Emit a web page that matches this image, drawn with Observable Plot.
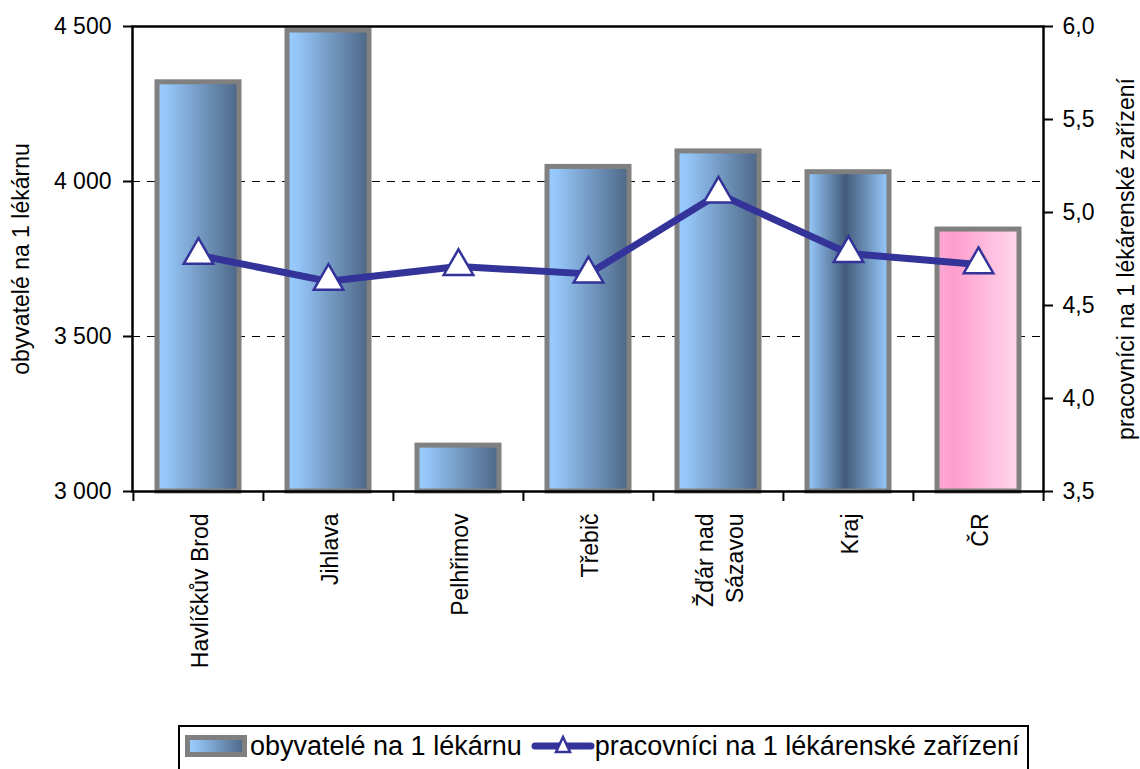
<!DOCTYPE html>
<html>
<head>
<meta charset="utf-8">
<script src="https://cdn.jsdelivr.net/npm/d3@7"></script>
<script src="https://cdn.jsdelivr.net/npm/@observablehq/plot@0.6"></script>
<style>
  html, body { margin: 0; padding: 0; background: #fff; }
  body { font-family: "Liberation Sans", Arial, sans-serif; }
  #wrap { position: relative; width: 1140px; height: 769px; overflow: hidden; }
  #chart svg { display: block; overflow: visible; }
  #legend {
    position: absolute; left: 178px; top: 725px; width: 851px; height: 52px;
    border: 2px solid #000; box-sizing: border-box; padding: 0 0 10px 5px;
    display: flex; align-items: center; font-size: 27px; color: #000; white-space: nowrap;
  }
  #legend .item { display: flex; align-items: center; }
  #legend svg { display: block; }
</style>
</head>
<body>
<div id="wrap">
  <div id="chart"></div>
  <div id="legend"></div>
</div>
<script>
// ---- data ----
const categories = ["Havlíčkův Brod", "Jihlava", "Pelhřimov", "Třebič", "Žďár nad\nSázavou", "Kraj", "ČR"];
const obyvatele = [4320, 4487, 3148, 4047, 4097, 4030, 3845];
const pracovnici = [4.77, 4.63, 4.71, 4.67, 5.10, 4.78, 4.72];
const leftTicks = [3000, 3500, 4000, 4500];
const rightTicks = [3.5, 4.0, 4.5, 5.0, 5.5, 6.0];
const gridValues = [3500, 4000];
const seriesNames = ["obyvatelé na 1 lékárnu", "pracovníci na 1 lékárenské zařízení"];

// ---- dual axis mapping ----
const L0 = 3000, L1 = 4500, R0 = 3.5, R1 = 6.0;
const toLeft = v => L0 + (v - R0) * (L1 - L0) / (R1 - R0);
const fromLeft = y => R0 + (y - L0) * (R1 - R0) / (L1 - L0);

const data = categories.map((c, i) => ({cat: c, oby: obyvatele[i], prac: pracovnici[i]}));

const W = 1140, H = 720, mL = 132, mR = 97, mT = 26, mB = 229;
const step = (W - mL - mR) / categories.length;
const FONT = "'Liberation Sans', Arial, sans-serif";

const defs = () => {
  const ns = "http://www.w3.org/2000/svg";
  const d = document.createElementNS(ns, "defs");
  d.innerHTML = `
    <linearGradient id="gBlue" x1="0" x2="1" y1="0" y2="0">
      <stop offset="0" stop-color="#99ccff"/>
      <stop offset="0.12" stop-color="#95c6f8"/>
      <stop offset="1" stop-color="#4d6685"/>
    </linearGradient>
    <linearGradient id="gKraj" x1="0" x2="1" y1="0" y2="0">
      <stop offset="0" stop-color="#99ccff"/>
      <stop offset="0.47" stop-color="#435b79"/>
      <stop offset="1" stop-color="#99ccff"/>
    </linearGradient>
    <linearGradient id="gCR" x1="0" x2="1" y1="0" y2="0">
      <stop offset="0" stop-color="#ffaad6"/>
      <stop offset="0.2" stop-color="#ff9dcd"/>
      <stop offset="1" stop-color="#ffd8ec"/>
    </linearGradient>`;
  return d;
};

const isPlain = d => d.cat !== "Kraj" && d.cat !== "ČR";

const chart = Plot.plot({
  width: W, height: H,
  marginLeft: mL, marginRight: mR, marginTop: mT, marginBottom: mB,
  style: {fontFamily: FONT, fontSize: "23px", color: "#000", background: "#fff"},
  x: {type: "band", domain: categories, paddingInner: 0.37, paddingOuter: 0.185, axis: null},
  y: {domain: [L0, L1], axis: null},
  marks: [
    defs,
    Plot.ruleY(gridValues, {stroke: "#000", strokeWidth: 1, strokeDasharray: "8,7"}),
    Plot.barY(data, {filter: isPlain, x: "cat", y1: L0, y2: "oby", fill: "url(#gBlue)", stroke: "#808080", strokeWidth: 5}),
    Plot.barY(data, {filter: d => d.cat === "Kraj", x: "cat", y1: L0, y2: "oby", fill: "url(#gKraj)", stroke: "#808080", strokeWidth: 5}),
    Plot.barY(data, {filter: d => d.cat === "ČR", x: "cat", y1: L0, y2: "oby", fill: "url(#gCR)", stroke: "#808080", strokeWidth: 5}),
    Plot.line(data, {x: "cat", y: d => toLeft(d.prac), stroke: "#333399", strokeWidth: 7}),
    Plot.dot(data, {x: "cat", y: d => toLeft(d.prac), symbol: "triangle", r: 11, fill: "#fff", stroke: "#333399", strokeWidth: 2.5}),
    Plot.frame({stroke: "#000", strokeWidth: 2.5}),
    Plot.axisY({anchor: "left", ticks: leftTicks, tickSize: 9, tickPadding: 12, strokeWidth: 2, fontSize: 23,
      tickFormat: d => d3.format(",")(d).replace(/,/g, "\u00a0"), label: null}),
    Plot.axisY({anchor: "right", ticks: rightTicks.map(toLeft), tickSize: 9, tickPadding: 10, strokeWidth: 2, fontSize: 23,
      tickFormat: y => fromLeft(y).toFixed(1).replace(".", ","), label: null}),
    Plot.ruleX(categories, {x: d => d, dx: -step / 2, y1: L0, y2: L0, insetBottom: -10, stroke: "#000", strokeWidth: 2}),
    Plot.ruleX(categories.slice(-1), {x: d => d, dx: step / 2, y1: L0, y2: L0, insetBottom: -10, stroke: "#000", strokeWidth: 2}),
    Plot.text(categories, {x: d => d, y: L0, rotate: -90, textAnchor: "end", dy: 22, lineHeight: 1.3, fontSize: 23, fill: "#000"}),
    Plot.text([seriesNames[0]], {frameAnchor: "left", textAnchor: "middle", dx: -111, rotate: -90, fontSize: 23, fill: "#000"}),
    Plot.text([seriesNames[1]], {frameAnchor: "right", textAnchor: "middle", dx: 83, rotate: -90, fontSize: 23, fill: "#000"})
  ]
});
document.getElementById("chart").appendChild(chart);

// ---- legend ----
const legend = document.getElementById("legend");
legend.innerHTML = `
  <div class="item">
    <svg width="62" height="22" viewBox="0 0 62 22">
      <defs><linearGradient id="lgBlue" x1="0" x2="1"><stop offset="0" stop-color="#99ccff"/><stop offset="0.12" stop-color="#95c6f8"/><stop offset="1" stop-color="#4d6685"/></linearGradient></defs>
      <rect x="2.5" y="2.5" width="57" height="17" fill="url(#lgBlue)" stroke="#808080" stroke-width="5"/>
    </svg>
    <span style="margin-left:3px">${seriesNames[0]}</span>
  </div>
  <div class="item" style="margin-left:9px">
    <svg width="64" height="26" viewBox="0 0 64 26">
      <line x1="4" y1="13" x2="60" y2="13" stroke="#333399" stroke-width="7" stroke-linecap="round"/>
      <path d="M32,4 L39,19 L25,19 Z" fill="#fff" stroke="#333399" stroke-width="2.5" stroke-linejoin="miter"/>
    </svg>
    <span style="margin-left:0px">${seriesNames[1]}</span>
  </div>`;
</script>
</body>
</html>
